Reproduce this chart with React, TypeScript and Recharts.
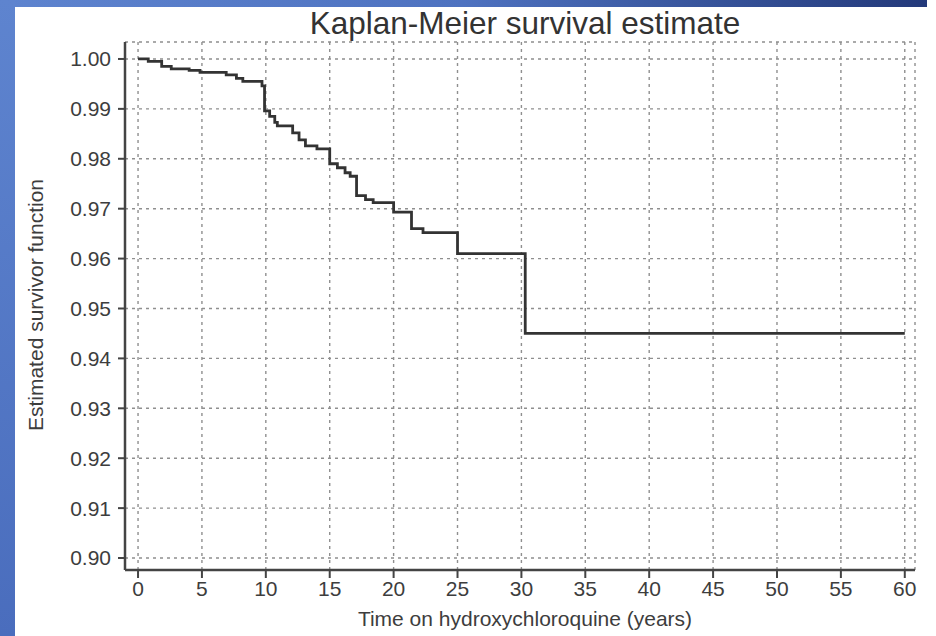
import { LineChart, Line, XAxis, YAxis, CartesianGrid } from "recharts";

// Kaplan-Meier step points (time in years, survivor estimate)
const times = [0, 0.8, 1.85, 2.6, 4.0, 4.85, 6.9, 7.7, 8.2, 9.7, 9.9, 10.3, 10.7, 10.9, 12.1, 12.6, 13.1, 14.0, 15.0, 15.6, 16.2, 16.6, 17.1, 17.8, 18.4, 20.0, 21.4, 22.3, 25.0, 30.3, 60];
const survival = [1.0, 0.9995, 0.9985, 0.998, 0.9977, 0.9973, 0.9968, 0.9961, 0.9955, 0.9946, 0.9896, 0.9885, 0.9873, 0.9866, 0.9852, 0.9838, 0.9826, 0.982, 0.979, 0.9782, 0.9772, 0.9765, 0.9726, 0.9718, 0.9712, 0.9693, 0.966, 0.9652, 0.961, 0.945, 0.945];

const xTicks = [0, 5, 10, 15, 20, 25, 30, 35, 40, 45, 50, 55, 60];
const yTicks = [0.9, 0.91, 0.92, 0.93, 0.94, 0.95, 0.96, 0.97, 0.98, 0.99, 1.0];

const title = "Kaplan-Meier survival estimate";
const xTitle = "Time on hydroxychloroquine (years)";
const yTitle = "Estimated survivor function";

const data = times.map((t, i) => ({ t, s: survival[i] }));

const font = "'Liberation Sans', Arial, sans-serif";
const ink = "#3d3d3d";

export default function App() {
  return (
    <div style={{ position: "absolute", left: 0, top: 0, width: 936, height: 636, background: "#fff", overflow: "hidden", fontFamily: font }}>
      <div style={{ position: "absolute", left: 0, top: 0, width: 927, height: 7, background: "linear-gradient(90deg, #5e84cf 0%, #4e72c0 50%, #23397a 100%)" }} />
      <div style={{ position: "absolute", left: 0, top: 0, width: 15, height: 636, background: "linear-gradient(180deg, #5e84cf 0%, #4a6dbd 100%)" }} />
      <div style={{ position: "absolute", left: 0, width: 1050, top: 5, textAlign: "center", fontSize: 31.5, color: "#333" }}>{title}</div>
      <div style={{ position: "absolute", left: 0, width: 1050, top: 607, textAlign: "center", fontSize: 21, color: ink }}>{xTitle}</div>
      <div style={{ position: "absolute", left: 36, top: 305, width: 0, height: 0 }}>
        <div style={{ position: "absolute", left: -200, top: -12, width: 400, textAlign: "center", fontSize: 21, color: ink, transform: "rotate(-90deg)", whiteSpace: "nowrap" }}>{yTitle}</div>
      </div>
      <div style={{ position: "absolute", left: 0, top: 0 }}>
        <LineChart width={936} height={636} data={data} margin={{ top: 42, right: 21, bottom: 0, left: 65 }}>
          <CartesianGrid stroke="#8f8f8f" strokeWidth={1.4} strokeDasharray="3 4" />
          <XAxis
            type="number"
            dataKey="t"
            domain={[-1.02, 60.8]}
            ticks={xTicks}
            height={66}
            tickSize={8}
            tickMargin={3}
            axisLine={{ stroke: "#444", strokeWidth: 2.5 }}
            tickLine={{ stroke: "#444", strokeWidth: 2 }}
            tick={{ fill: ink, fontSize: 21, fontFamily: font }}
            allowDataOverflow
          />
          <YAxis
            type="number"
            domain={[0.8976, 1.0034]}
            ticks={yTicks}
            width={60}
            tickSize={7}
            tickMargin={7}
            axisLine={{ stroke: "#444", strokeWidth: 2.5 }}
            tickLine={{ stroke: "#444", strokeWidth: 2 }}
            tick={{ fill: ink, fontSize: 21, fontFamily: font }}
            tickFormatter={(v: number) => v.toFixed(2)}
            allowDataOverflow
          />
          <Line type="stepAfter" dataKey="s" stroke="#333" strokeWidth={2.8} dot={false} isAnimationActive={false} />
        </LineChart>
      </div>
    </div>
  );
}
